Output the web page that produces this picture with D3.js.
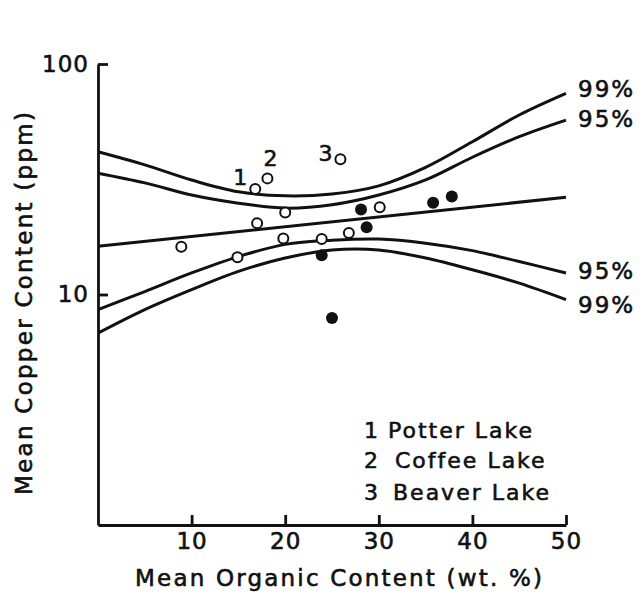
<!DOCTYPE html>
<html>
<head>
<meta charset="utf-8">
<script src="https://cdn.jsdelivr.net/npm/d3@7"></script>
<style>
  body { margin: 0; background: #fff; }
  text { font-family: "DejaVu Sans", sans-serif; fill: #111; stroke: #111; stroke-width: 0.6px; }
</style>
</head>
<body>
<div class="chart"></div>
<script>
// Lake sediment samples: organic content (wt. %) vs copper content (ppm)
const openX = [8.9, 14.9, 16.8, 17.0, 18.1, 19.8, 20.0, 23.9, 25.9, 26.8, 30.1];
const openY = [16.1, 14.5, 28.7, 20.4, 31.9, 17.5, 22.7, 17.4, 38.6, 18.5, 23.9];
const filledX = [23.9, 25.0, 28.1, 28.7, 35.8, 37.8];
const filledY = [14.8, 7.9, 23.4, 19.6, 25.0, 26.6];

// regression line and confidence bands
const fitX = [0, 50];
const fitY = [16.2, 26.4];
const bandX = [0, 5, 10, 15, 20, 25, 30, 35, 40, 45, 50];
const upper99 = [41.6, 36.5, 31.4, 27.9, 26.8, 27.3, 29.6, 35.6, 46.0, 60.1, 74.6];
const upper95 = [33.6, 30.5, 27.0, 24.9, 23.7, 24.5, 27.0, 31.4, 39.4, 48.4, 57.1];
const lower95 = [8.6, 10.3, 12.4, 14.6, 16.5, 17.2, 17.4, 16.7, 15.5, 13.9, 12.4];
const lower99 = [6.8, 8.6, 10.5, 12.6, 14.4, 15.6, 15.6, 14.4, 12.8, 11.2, 9.5];
const bandLabels = ["99%", "95%", "95%", "99%"];

// labelled lakes
const lakeIds = ["1", "2", "3"];
const lakeNames = ["Potter Lake", "Coffee Lake", "Beaver Lake"];
const lakeX = [16.8, 18.1, 25.9];
const lakeY = [28.7, 31.9, 38.6];

const xTicks = [10, 20, 30, 40, 50];
const yTicks = [10, 100];

// layout
const margin = { top: 64, right: 77, bottom: 76, left: 98 };
const width = 643 - margin.left - margin.right;
const height = 601 - margin.top - margin.bottom;

const x = d3.scaleLinear().domain([0, 50]).range([0, width]);
const y = d3.scaleLog().domain([1, 100]).range([height, 0]);

const svg = d3.select(".chart")
  .append("svg")
  .attr("width", 643)
  .attr("height", 601)
  .style("background", "#fff");

const g = svg.append("g")
  .attr("transform", `translate(${margin.left},${margin.top})`);

// axes
const xAxis = d3.axisBottom(x)
  .tickValues(xTicks)
  .tickSizeInner(-10)
  .tickSizeOuter(0)
  .tickPadding(8);

const yAxis = d3.axisLeft(y)
  .tickValues(yTicks)
  .tickFormat(d3.format("d"))
  .tickSizeInner(-10)
  .tickSizeOuter(0)
  .tickPadding(9);

const gx = g.append("g")
  .attr("transform", `translate(0,${height})`)
  .call(xAxis);

const gy = g.append("g").call(yAxis);

[gx, gy].forEach((ax) => {
  ax.select(".domain").attr("stroke", "#111").attr("stroke-width", 2.8);
  ax.selectAll(".tick line").attr("stroke", "#111").attr("stroke-width", 2.8);
  ax.selectAll(".tick text")
    .attr("font-family", "DejaVu Sans, sans-serif")
    .attr("font-size", 23)
    .attr("letter-spacing", 1)
    .attr("fill", "#111");
});

// lines
const line = d3.line()
  .x((d) => x(d[0]))
  .y((d) => y(d[1]))
  .curve(d3.curveCatmullRom.alpha(0.5));

const bands = [upper99, upper95, lower95, lower99];

g.selectAll(".band")
  .data(bands)
  .join("path")
  .attr("class", "band")
  .attr("fill", "none")
  .attr("stroke", "#111")
  .attr("stroke-width", 3)
  .attr("d", (s) => line(bandX.map((v, i) => [v, s[i]])));

g.append("path")
  .attr("fill", "none")
  .attr("stroke", "#111")
  .attr("stroke-width", 3)
  .attr("d", d3.line().x((d) => x(d[0])).y((d) => y(d[1]))(fitX.map((v, i) => [v, fitY[i]])));

// band labels at right end
const bandLabelDy = [4, 7, 6, 13];
g.selectAll(".bandlabel")
  .data(bandLabels)
  .join("text")
  .attr("class", "bandlabel")
  .attr("x", width + 12)
  .attr("y", (d, i) => y(bands[i][bands[i].length - 1]) + bandLabelDy[i])
  .attr("font-size", 23)
  .attr("letter-spacing", 2)
  .text((d) => d);

// points
g.selectAll(".open")
  .data(openX)
  .join("circle")
  .attr("class", "open")
  .attr("cx", (d) => x(d))
  .attr("cy", (d, i) => y(openY[i]))
  .attr("r", 5)
  .attr("fill", "#fff")
  .attr("stroke", "#111")
  .attr("stroke-width", 2);

g.selectAll(".filled")
  .data(filledX)
  .join("circle")
  .attr("class", "filled")
  .attr("cx", (d) => x(d))
  .attr("cy", (d, i) => y(filledY[i]))
  .attr("r", 6)
  .attr("fill", "#111");

// lake numbers next to their points
const lakeOffset = [[-15, -4], [3, -12], [-15, 2]];
g.selectAll(".lakeid")
  .data(lakeIds)
  .join("text")
  .attr("class", "lakeid")
  .attr("x", (d, i) => x(lakeX[i]) + lakeOffset[i][0])
  .attr("y", (d, i) => y(lakeY[i]) + lakeOffset[i][1])
  .attr("text-anchor", "middle")
  .attr("font-size", 22)
  .text((d) => d);

// legend
const legendY = [438, 468, 500];
const legend = svg.append("g");
legend.selectAll(".legid")
  .data(lakeIds)
  .join("text")
  .attr("class", "legid")
  .attr("x", 364)
  .attr("y", (d, i) => legendY[i])
  .attr("font-size", 22)
  .text((d) => d);
legend.selectAll(".legname")
  .data(lakeNames)
  .join("text")
  .attr("class", "legname")
  .attr("x", (d, i) => [388, 395, 393][i])
  .attr("y", (d, i) => legendY[i])
  .attr("font-size", 22)
  .attr("letter-spacing", 2)
  .text((d) => d);

// axis titles
svg.append("text")
  .attr("x", 135)
  .attr("y", 586)
  .attr("font-size", 23)
  .attr("textLength", 407)
  .attr("lengthAdjust", "spacing")
  .text("Mean Organic Content (wt. %)");

svg.append("text")
  .attr("transform", "translate(32,495) rotate(-90)")
  .attr("font-size", 23)
  .attr("textLength", 383)
  .attr("lengthAdjust", "spacing")
  .text("Mean Copper Content (ppm)");
</script>
</body>
</html>
